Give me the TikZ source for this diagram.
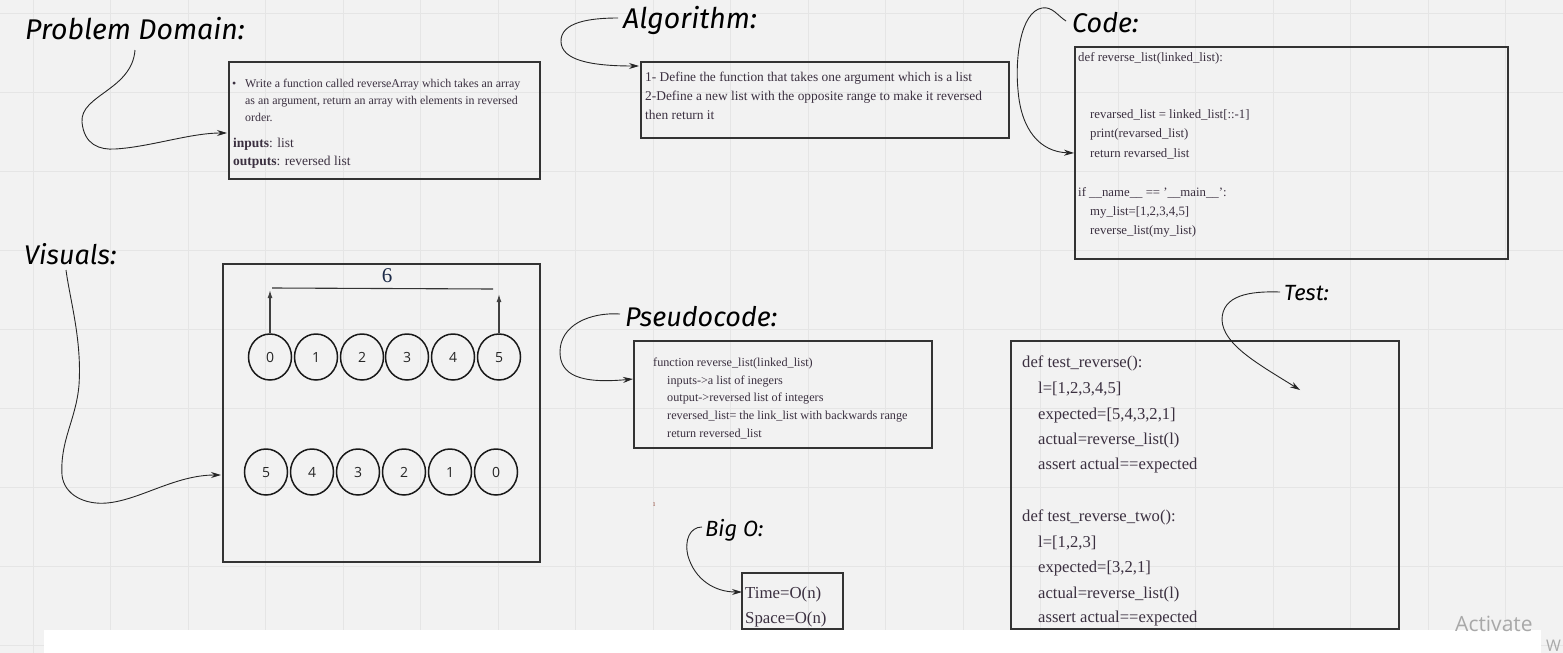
\documentclass[tikz,border=0pt]{standalone}
\usepackage{fontspec}
\setmainfont{Liberation Serif}
\newfontfamily\hand{Fira Sans}
\newfontfamily\circfont{Open Sans}
\usetikzlibrary{arrows.meta,shapes.geometric}
\definecolor{bg}{HTML}{F2F2F2}
\definecolor{gridc}{HTML}{E5E5E5}
\definecolor{ink}{HTML}{3B3040}
\definecolor{inkdark}{HTML}{222228}
\definecolor{boxc}{HTML}{333333}
\definecolor{navy}{HTML}{1C2A48}
\definecolor{winc}{HTML}{A8A8A8}
\definecolor{stray}{HTML}{8B3A2A}
\tikzset{
  box/.style={draw=boxc, line width=1.8pt, anchor=north west, inner sep=0pt},
  ln/.style={anchor=base west, inner sep=0pt, text=ink},
  title/.style={anchor=west, inner sep=0pt, text=black, font=\hand\itshape\fontsize{#1}{#1}\selectfont},
  conn/.style={draw=black!85, line width=0.9pt, -{Stealth[length=10pt,width=6pt]}},
  uparrow/.style={draw=black!75, line width=1.3pt, -{Latex[length=8pt,width=5pt]}},
  cell/.style={ellipse, draw=black!90, line width=1.5pt, minimum width=43pt, minimum height=46pt, inner sep=0pt, text height=10pt, text depth=0pt, font=\circfont\fontsize{14}{14}\selectfont, text=black!85},
}
\begin{document}
\begin{tikzpicture}[x=1pt,y=-1pt]
\useasboundingbox (0,0) rectangle (1563,653);
\fill[bg] (0,0) rectangle (1563,653);
\foreach \k in {0,...,19} {\draw[gridc, line width=0.8pt] ({33+77.5*\k},0) -- ({33+77.5*\k},653);}
\foreach \k in {0,...,8} {\draw[gridc, line width=0.8pt] (0,{13+79*\k}) -- (1563,{13+79*\k});}
\fill[white] (44,630) rectangle (1541,653);

% ---------- titles
\node[title=28.5] (tpd) at (25,29) {Problem Domain:};
\node[title=27] (tvis) at (24,254) {Visuals:};
\node[title=28.5] (talg) at (623,20) {Algorithm:};
\node[title=27] (tcode) at (1072,23) {Code:};
\node[title=27] (tpseudo) at (625,317) {Pseudocode:};
\node[title=22] (ttest) at (1284,293) {Test:};
\node[title=22] (tbig) at (705,530) {Big O:};

% ---------- boxes
\node[box, minimum width=311pt, minimum height=117pt] (pdbox) at (228,61) {};
\node[box, minimum width=368pt, minimum height=76pt] (algbox) at (640,61) {};
\node[box, minimum width=433pt, minimum height=212pt] (codebox) at (1074,46) {};
\node[box, minimum width=317pt, minimum height=298pt] (visbox) at (222,263) {};
\node[box, minimum width=298pt, minimum height=107pt] (psbox) at (633,340) {};
\node[box, minimum width=388pt, minimum height=288pt] (testbox) at (1010,340) {};
\node[box, minimum width=101pt, minimum height=56pt] (bigbox) at (741,572) {};

% ---------- problem domain text
\begin{scope}[every node/.append style={font=\fontsize{11.9}{11.9}\selectfont}]
\node[ln] (pdb) at (232,87) {\textbullet};
\node[ln] (pd1) at (245,87) {Write a function called reverseArray which takes an array};
\node[ln] (pd2) at (245,104) {as an argument, return an array with elements in reversed};
\node[ln] (pd3) at (245,121) {order.};
\end{scope}
\begin{scope}[every node/.append style={font=\fontsize{13.5}{13.5}\selectfont, text=inkdark}]
\node[ln] (pdin) at (233,147) {\textbf{inputs}: list};
\node[ln] (pdout) at (233,165) {\textbf{outputs}: reversed list};
\end{scope}

% ---------- algorithm text
\begin{scope}[every node/.append style={font=\fontsize{13.4}{13.4}\selectfont}]
\node[ln] (al1) at (645,81) {1- Define the function that takes one argument which is a list};
\node[ln] (al2) at (645,100) {2-Define a new list with the opposite range to make it reversed};
\node[ln] (al3) at (645,119) {then return it};
\end{scope}

% ---------- code text
\begin{scope}[every node/.append style={font=\fontsize{12.8}{12.8}\selectfont, text=black!75}]
\node[ln] (c1) at (1078,61) {def reverse\_list(linked\_list):};
\node[ln] (c2) at (1090,118) {revarsed\_list = linked\_list[::-1]};
\node[ln] (c3) at (1090,137) {print(revarsed\_list)};
\node[ln] (c4) at (1090,157) {return revarsed\_list};
\node[ln] (c5) at (1078,196) {if \_\_name\_\_ == '\_\_main\_\_':};
\node[ln] (c6) at (1090,215) {my\_list=[1,2,3,4,5]};
\node[ln] (c7) at (1090,234) {reverse\_list(my\_list)};
\end{scope}

% ---------- pseudocode text
\begin{scope}[every node/.append style={font=\fontsize{12.2}{12.2}\selectfont}]
\node[ln] (p1) at (653,366) {function reverse\_list(linked\_list)};
\node[ln] (p2) at (667,384) {inputs->a list of inegers};
\node[ln] (p3) at (667,401) {output->reversed list of integers};
\node[ln] (p4) at (667,419) {reversed\_list= the link\_list with backwards range};
\node[ln] (p5) at (667,437) {return reversed\_list};
\end{scope}

% ---------- test text
\begin{scope}[every node/.append style={font=\fontsize{16.6}{16.6}\selectfont, text=inkdark}]
\node[ln] (t1) at (1022,367) {def test\_reverse():};
\node[ln] (t2) at (1038,393) {l=[1,2,3,4,5]};
\node[ln] (t3) at (1038,419) {expected=[5,4,3,2,1]};
\node[ln] (t4) at (1038,444) {actual=reverse\_list(l)};
\node[ln] (t5) at (1038,469) {assert actual==expected};
\node[ln] (t6) at (1022,521) {def test\_reverse\_two():};
\node[ln] (t7) at (1038,547) {l=[1,2,3]};
\node[ln] (t8) at (1038,572) {expected=[3,2,1]};
\node[ln] (t9) at (1038,598) {actual=reverse\_list(l)};
\node[ln] (t10) at (1038,622) {assert actual==expected};
\end{scope}

% ---------- big O text
\begin{scope}[every node/.append style={font=\fontsize{16.8}{16.8}\selectfont, text=inkdark}]
\node[ln] (b1) at (745,598) {Time=O(n)};
\node[ln] (b2) at (745,623) {Space=O(n)};
\end{scope}

\node[anchor=center, inner sep=0pt, text=stray, font=\fontsize{6}{6}\selectfont] (strayone) at (654,505) {1};

% ---------- visuals
\foreach \v [count=\i from 0] in {270,316,362,407,453,499} {
  \node[cell] (top\i) at (\v,357) {\i};
}
\foreach \v/\d [count=\i from 0] in {266/5,312/4,358/3,404/2,450/1,496/0} {
  \node[cell] (bot\i) at (\v,472) {\d};
}
\coordinate (upL) at (270,290);
\coordinate (upR) at (499,294);
\draw[uparrow] (top0.north) -- (upL);
\draw[uparrow] (top5.north) -- (upR);
\coordinate (spanL) at (272,288);
\coordinate (spanR) at (493,289);
\draw[black!80, line width=1.1pt] (spanL) -- (spanR);
\node[inner sep=0pt, text=navy, font=\fontsize{21}{21}\selectfont] (six) at (387,276) {6};

% ---------- connectors
\coordinate (pdS) at (135,50);
\coordinate (pdE) at (227,133);
\draw[conn] (pdS) .. controls (132,90) and (80,95) .. (82,122) .. controls (84,145) and (100,150) .. (115,149) .. controls (150,147) and (190,133) .. (pdE);

\coordinate (visS) at (66,270);
\coordinate (visE) at (221,475);
\draw[conn] (visS) .. controls (70,300) and (82,340) .. (79,385) .. controls (76,420) and (60,440) .. (62,475) .. controls (64,495) and (85,505) .. (107,503) .. controls (140,500) and (175,475) .. (visE);

\coordinate (algS) at (618,18);
\coordinate (algE) at (639,66);
\draw[conn] (algS) .. controls (590,18) and (560,22) .. (561,42) .. controls (562,60) and (590,66) .. (algE);

\coordinate (codeS) at (1066,21);
\coordinate (codeE) at (1074,153);
\draw[conn] (codeS) .. controls (1058,16) and (1052,6) .. (1042,8) .. controls (1020,12) and (1015,60) .. (1018,90) .. controls (1021,130) and (1040,152) .. (codeE);

\coordinate (psS) at (620,314);
\coordinate (psE) at (633,379);
\draw[conn] (psS) .. controls (590,312) and (560,325) .. (560,352) .. controls (560,375) and (580,384) .. (psE);

\coordinate (testS) at (1280,292);
\coordinate (testE) at (1300,390);
\draw[conn] (testS) .. controls (1250,291) and (1222,295) .. (1222,320) .. controls (1223,345) and (1260,365) .. (testE);

\coordinate (bigS) at (702,527);
\coordinate (bigE) at (742,592);
\draw[conn] (bigS) .. controls (690,527) and (684,540) .. (688,556) .. controls (695,580) and (715,592) .. (bigE);

% ---------- watermark
\node[anchor=base west, inner sep=0pt, text=winc, font=\circfont\fontsize{21}{21}\selectfont] (wmA) at (1455,631) {Activate};
\node[anchor=base west, inner sep=0pt, text=winc, font=\circfont\fontsize{16}{16}\selectfont] (wmW) at (1546,651) {W};
\end{tikzpicture}
\end{document}
